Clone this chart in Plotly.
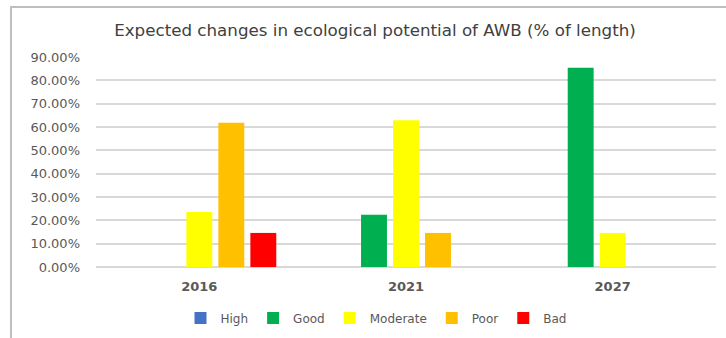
import plotly.graph_objects as go

# Share of water-body length per ecological-potential class, by year
years = ["2016", "2021", "2027"]
high = [0.0, 0.0, 0.0]
good = [0.0, 0.224, 0.854]
moderate = [0.236, 0.629, 0.146]
poor = [0.618, 0.146, 0.0]
bad = [0.146, 0.0, 0.0]

y_ticks = [0.0, 0.1, 0.2, 0.3, 0.4, 0.5, 0.6, 0.7, 0.8, 0.9]

series = [
    ("High", high, "#4472C4"),
    ("Good", good, "#00B050"),
    ("Moderate", moderate, "#FFFF00"),
    ("Poor", poor, "#FFC000"),
    ("Bad", bad, "#FF0000"),
]

W, H = 726, 338
L, R, T, B = 96, 10, 57, 71
plot_w = W - L - R
plot_h = H - T - B

fig = go.Figure()
for name, vals, color in series:
    fig.add_trace(go.Bar(
        x=years, y=vals, name=name,
        marker=dict(color=color, line=dict(width=0)),
    ))

font_family = "DejaVu Sans, Verdana, sans-serif"

fig.update_layout(
    width=W, height=H,
    margin=dict(l=L, r=R, t=T, b=B, autoexpand=False),
    paper_bgcolor="white", plot_bgcolor="white",
    barmode="group", bargap=0.226, bargroupgap=0.19,
    font=dict(family=font_family, color="#595959"),
    title=dict(
        text="Expected changes in ecological potential of AWB (% of length)",
        x=375 / W, xanchor="center",
        y=1 - 30 / H, yanchor="middle",
        font=dict(size=16.7, color="#404040", family=font_family),
    ),
    xaxis=dict(
        showgrid=False, zeroline=False, showline=False, automargin=False,
        tickfont=dict(size=13, color="#595959", family=font_family, weight="bold"),
        ticks="", ticklabelstandoff=10,
    ),
    yaxis=dict(
        range=[0, 0.9], tickvals=y_ticks, tickformat=".2%", automargin=False,
        showgrid=True, gridcolor="#D9D9D9", gridwidth=1.5,
        zeroline=True, zerolinecolor="#D9D9D9", zerolinewidth=1.5,
        showline=False, ticks="",
        tickfont=dict(size=13, color="#595959"),
        ticklabelstandoff=15,
    ),
    legend=dict(
        orientation="h", xanchor="center", yanchor="middle",
        x=(376 - L) / plot_w, y=(plot_h - (318 - T)) / plot_h,
        font=dict(size=12, color="#595959"),
        itemwidth=30, tracegroupgap=0,
        bgcolor="rgba(0,0,0,0)",
    ),
    showlegend=True,
)

# Chart frame: top and left edges of the chart area border
fig.add_shape(
    type="rect", xref="paper", yref="paper",
    x0=(11 - L) / plot_w, x1=(740 - L) / plot_w,
    y0=(plot_h - (360 - T)) / plot_h, y1=(plot_h - (7 - T)) / plot_h,
    line=dict(color="#BFBFBF", width=2), fillcolor="rgba(0,0,0,0)",
    layer="below",
)

fig.write_html("out.html")
